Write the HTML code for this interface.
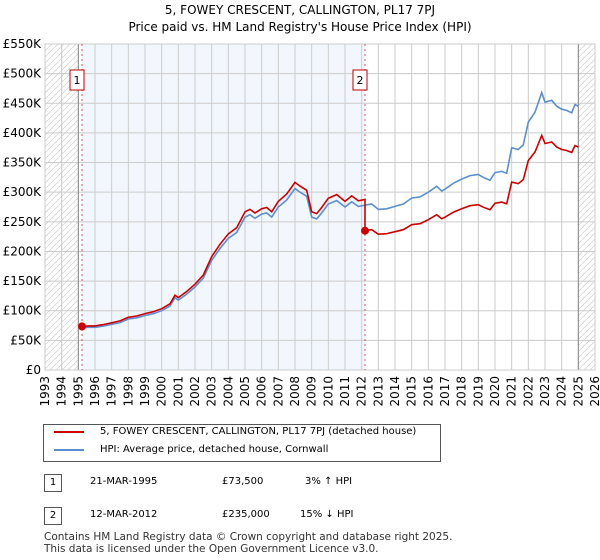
<!DOCTYPE html>
<html><head><meta charset="utf-8"><style>
body{margin:0;background:#fff;font-family:"DejaVu Sans","Liberation Sans",sans-serif;}
#wrap{position:relative;width:600px;height:560px;overflow:hidden}
.t{position:absolute;font-size:12px;color:#000}
</style></head><body><div id="wrap">
<div class="t" style="left:0;width:600px;top:2px;text-align:center;font-size:12px;line-height:17px">5, FOWEY CRESCENT, CALLINGTON, PL17 7PJ<br>Price paid vs. HM Land Registry's House Price Index (HPI)</div>
<svg id="chart" width="600" height="420" style="position:absolute;left:0;top:0;font-family:'DejaVu Sans',sans-serif"></svg>
<div style="position:absolute;left:43px;top:424px;width:396px;height:36px;border:1px solid #555;font-size:10px">
<div style="position:absolute;left:10px;top:6px;width:30px;border-top:2px solid #cc0000"></div><div style="position:absolute;left:56px;top:1px">5, FOWEY CRESCENT, CALLINGTON, PL17 7PJ (detached house)</div>
<div style="position:absolute;left:10px;top:24px;width:30px;border-top:2px solid #5b8fd0"></div><div style="position:absolute;left:56px;top:19px">HPI: Average price, detached house, Cornwall</div>
</div>
<div>
<div class="t" style="left:44px;top:474px;width:16px;height:16px;border:1px solid #555;text-align:center;font-size:10px;line-height:16px">1</div>
<div class="t" style="left:90px;top:476px;font-size:10px">21-MAR-1995</div>
<div class="t" style="left:222px;top:476px;font-size:10px">£73,500</div>
<div class="t" style="left:305px;top:476px;font-size:10px">3% ↑ HPI</div></div>
<div>
<div class="t" style="left:44px;top:507px;width:16px;height:16px;border:1px solid #555;text-align:center;font-size:10px;line-height:16px">2</div>
<div class="t" style="left:90px;top:509px;font-size:10px">12-MAR-2012</div>
<div class="t" style="left:222px;top:509px;font-size:10px">£235,000</div>
<div class="t" style="left:300px;top:509px;font-size:10px">15% ↓ HPI</div></div>
<div class="t" style="left:44px;top:531px;font-size:10.5px;line-height:12px;color:#333">Contains HM Land Registry data © Crown copyright and database right 2025.<br>This data is licensed under the Open Government Licence v3.0.</div>
</div>
<script>
const hpiYears=[1995.2,1995.6,1996,1996.5,1997,1997.5,1998,1998.5,1999,1999.5,2000,2000.5,2000.8,2001,2001.5,2002,2002.5,2003,2003.5,2004,2004.5,2005,2005.3,2005.6,2006,2006.3,2006.6,2007,2007.5,2008,2008.3,2008.7,2009,2009.3,2009.6,2010,2010.5,2011,2011.4,2011.8,2012.2,2012.6,2013,2013.5,2014,2014.5,2015,2015.5,2016,2016.5,2016.8,2017,2017.5,2018,2018.5,2019,2019.3,2019.7,2020,2020.4,2020.7,2021,2021.4,2021.7,2022,2022.4,2022.8,2023,2023.4,2023.7,2024,2024.3,2024.6,2024.8,2025];
const hpiValues=[71,72,72,74,77,80,86,88,92,95,100,108,122,118,128,140,155,185,205,222,232,258,262,256,263,265,258,275,287,306,300,293,258,255,265,280,286,275,284,276,278,280,271,272,276,280,290,292,300,310,302,305,315,322,328,330,325,320,333,335,332,375,372,380,418,435,468,452,455,445,440,438,434,448,445];
const saleYears=[1995.22,2012.2];
const salePrices=[73.5,235];
const yTicks=[0,50,100,150,200,250,300,350,400,450,500,550];
const xTicks=[1993,1994,1995,1996,1997,1998,1999,2000,2001,2002,2003,2004,2005,2006,2007,2008,2009,2010,2011,2012,2013,2014,2015,2016,2017,2018,2019,2020,2021,2022,2023,2024,2025,2026];
const L=45,R=595,T=44,B=370,NS="http://www.w3.org/2000/svg";
const xs=y=>L+(y-1993)/33*(R-L), ys=v=>B-v/550*(B-T);
const svg=document.getElementById('chart');
function mk(tag,at){const e=document.createElementNS(NS,tag);for(const k in at)e.setAttribute(k,at[k]);svg.appendChild(e);return e;}
const defs=mk('defs',{});defs.innerHTML='<pattern id="h" width="6" height="6" patternUnits="userSpaceOnUse"><path d="M0,6L6,0" stroke="#d4d4d4" stroke-width="0.8"/></pattern>';
let e;
e=mk('rect',{x:xs(saleYears[0]),y:T,width:xs(saleYears[1])-xs(saleYears[0]),height:B-T,fill:'#f2f6fd'});

e=mk('rect',{x:L,y:T,width:xs(1995)-L,height:B-T,fill:'url(#h)'});

e=mk('rect',{x:xs(2025),y:T,width:R-xs(2025),height:B-T,fill:'url(#h)'});

yTicks.forEach(v=>{mk('line',{x1:L,x2:R,y1:ys(v),y2:ys(v),stroke:'#ccc'});
e=mk('text',{x:L-4,y:ys(v)+4,'text-anchor':'end','font-size':12});e.textContent=v==0?'£0':'£'+v+'K';
});
xTicks.forEach(y=>{mk('line',{x1:xs(y),x2:xs(y),y1:T,y2:B,stroke:'#ccc'});
e=mk('text',{transform:`translate(${xs(y)+4},${B+6}) rotate(-90)`,'text-anchor':'end','font-size':12});e.textContent=y;
});
mk('line',{x1:xs(1995),x2:xs(1995),y1:T,y2:B,stroke:'#888'});
mk('line',{x1:xs(2025),x2:xs(2025),y1:T,y2:B,stroke:'#888'});
mk('rect',{x:L,y:T,width:R-L,height:B-T,fill:'none',stroke:'#ccc'});
function hpiAt(t){for(let i=1;i<hpiYears.length;i++)if(t<=hpiYears[i]){const f=(t-hpiYears[i-1])/(hpiYears[i]-hpiYears[i-1]);return hpiValues[i-1]+f*(hpiValues[i]-hpiValues[i-1]);}return hpiValues[hpiValues.length-1];}
const r1=salePrices[0]/hpiAt(saleYears[0]), r2=salePrices[1]/hpiAt(saleYears[1]);
let bp=hpiYears.map((y,i)=>`${i?'L':'M'}${xs(y).toFixed(1)},${ys(hpiValues[i]).toFixed(1)}`).join('');
let rp='';hpiYears.forEach((y,i)=>{let r=y<saleYears[1]?r1:r2;
if(i>0&&y>=saleYears[1]&&hpiYears[i-1]<saleYears[1]){rp+=`L${xs(saleYears[1]).toFixed(1)},${ys(hpiAt(saleYears[1])*r1).toFixed(1)}L${xs(saleYears[1]).toFixed(1)},${ys(salePrices[1]).toFixed(1)}`;}
rp+=`${i?'L':'M'}${xs(y).toFixed(1)},${ys(hpiValues[i]*r).toFixed(1)}`;});
saleYears.forEach((y,i)=>{mk('line',{x1:xs(y),x2:xs(y),y1:T,y2:B,stroke:'#e05050','stroke-dasharray':'2,3'});});
e=mk('path',{d:bp,fill:'none',stroke:'#5b8fd0','stroke-width':1.6});

e=mk('path',{d:rp,fill:'none',stroke:'#cc0000','stroke-width':1.6});

saleYears.forEach((y,i)=>{e=mk('circle',{cx:xs(y),cy:ys(salePrices[i]),r:4,fill:'#cc0000'});

mk('rect',{x:xs(y)-12,y:70,width:14,height:20,fill:'#fff',stroke:'#c00000'});
const tx=mk('text',{x:xs(y)-5,y:84,'text-anchor':'middle','font-size':11});tx.textContent=i+1;
});
</script></body></html>
